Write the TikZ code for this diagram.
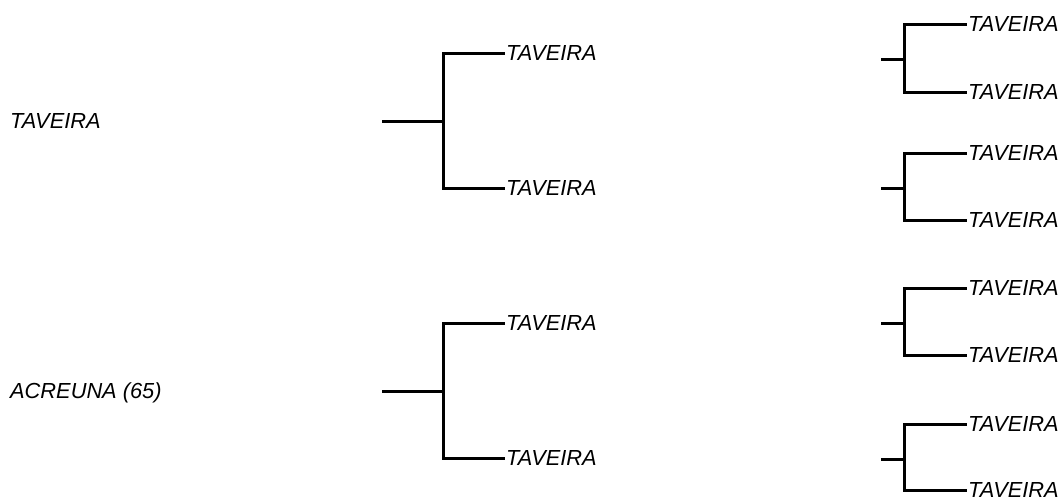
\documentclass[tikz,border=0pt]{standalone}
\usepackage{fontspec}
\setmainfont{Liberation Sans}
\begin{document}
\begin{tikzpicture}[x=1pt,y=-1pt,
  branch/.style={line width=3pt, line cap=rect},
  leaf/.style={anchor=west, inner xsep=3pt, inner ysep=0pt, font=\fontsize{21.8}{26}\selectfont\itshape},
  root/.style={anchor=base west, inner sep=0pt, font=\fontsize{21.8}{26}\selectfont\itshape}]
\useasboundingbox (0,0) rectangle (1062,498);
\clip (0,0) rectangle (1062,498);
% left labels
\node[root] (r1) at (10,128) {TAVEIRA};
\node[root] (r2) at (10,398) {ACREUNA (65)};
% middle brackets
\foreach \n/\s/\t/\b in {m1/121/53/188, m2/391/323/458}{
  \coordinate (\n s) at (383,\s);
  \coordinate (\n j) at (443,\s);
  \coordinate (\n jt) at (443,\t);
  \coordinate (\n jb) at (443,\b);
  \node[leaf] (\n t) at (503,\t) {TAVEIRA};
  \node[leaf] (\n b) at (503,\b) {TAVEIRA};
  \draw[branch] (\n s) -- (\n j);
  \draw[branch] (\n jt) -- (\n jb);
  \draw[branch] (\n jt) -- (\n t.west);
  \draw[branch] (\n jb) -- (\n b.west);
}
% right brackets
\foreach \n/\s/\t/\b in {q1/59/24/92, q2/188/153/220, q3/323/288/355, q4/459/424/490}{
  \coordinate (\n s) at (882,\s);
  \coordinate (\n j) at (904,\s);
  \coordinate (\n jt) at (904,\t);
  \coordinate (\n jb) at (904,\b);
  \node[leaf] (\n t) at (965,\t) {TAVEIRA};
  \node[leaf] (\n b) at (965,\b) {TAVEIRA};
  \draw[branch] (\n s) -- (\n j);
  \draw[branch] (\n jt) -- (\n jb);
  \draw[branch] (\n jt) -- (\n t.west);
  \draw[branch] (\n jb) -- (\n b.west);
}
\end{tikzpicture}
\end{document}
